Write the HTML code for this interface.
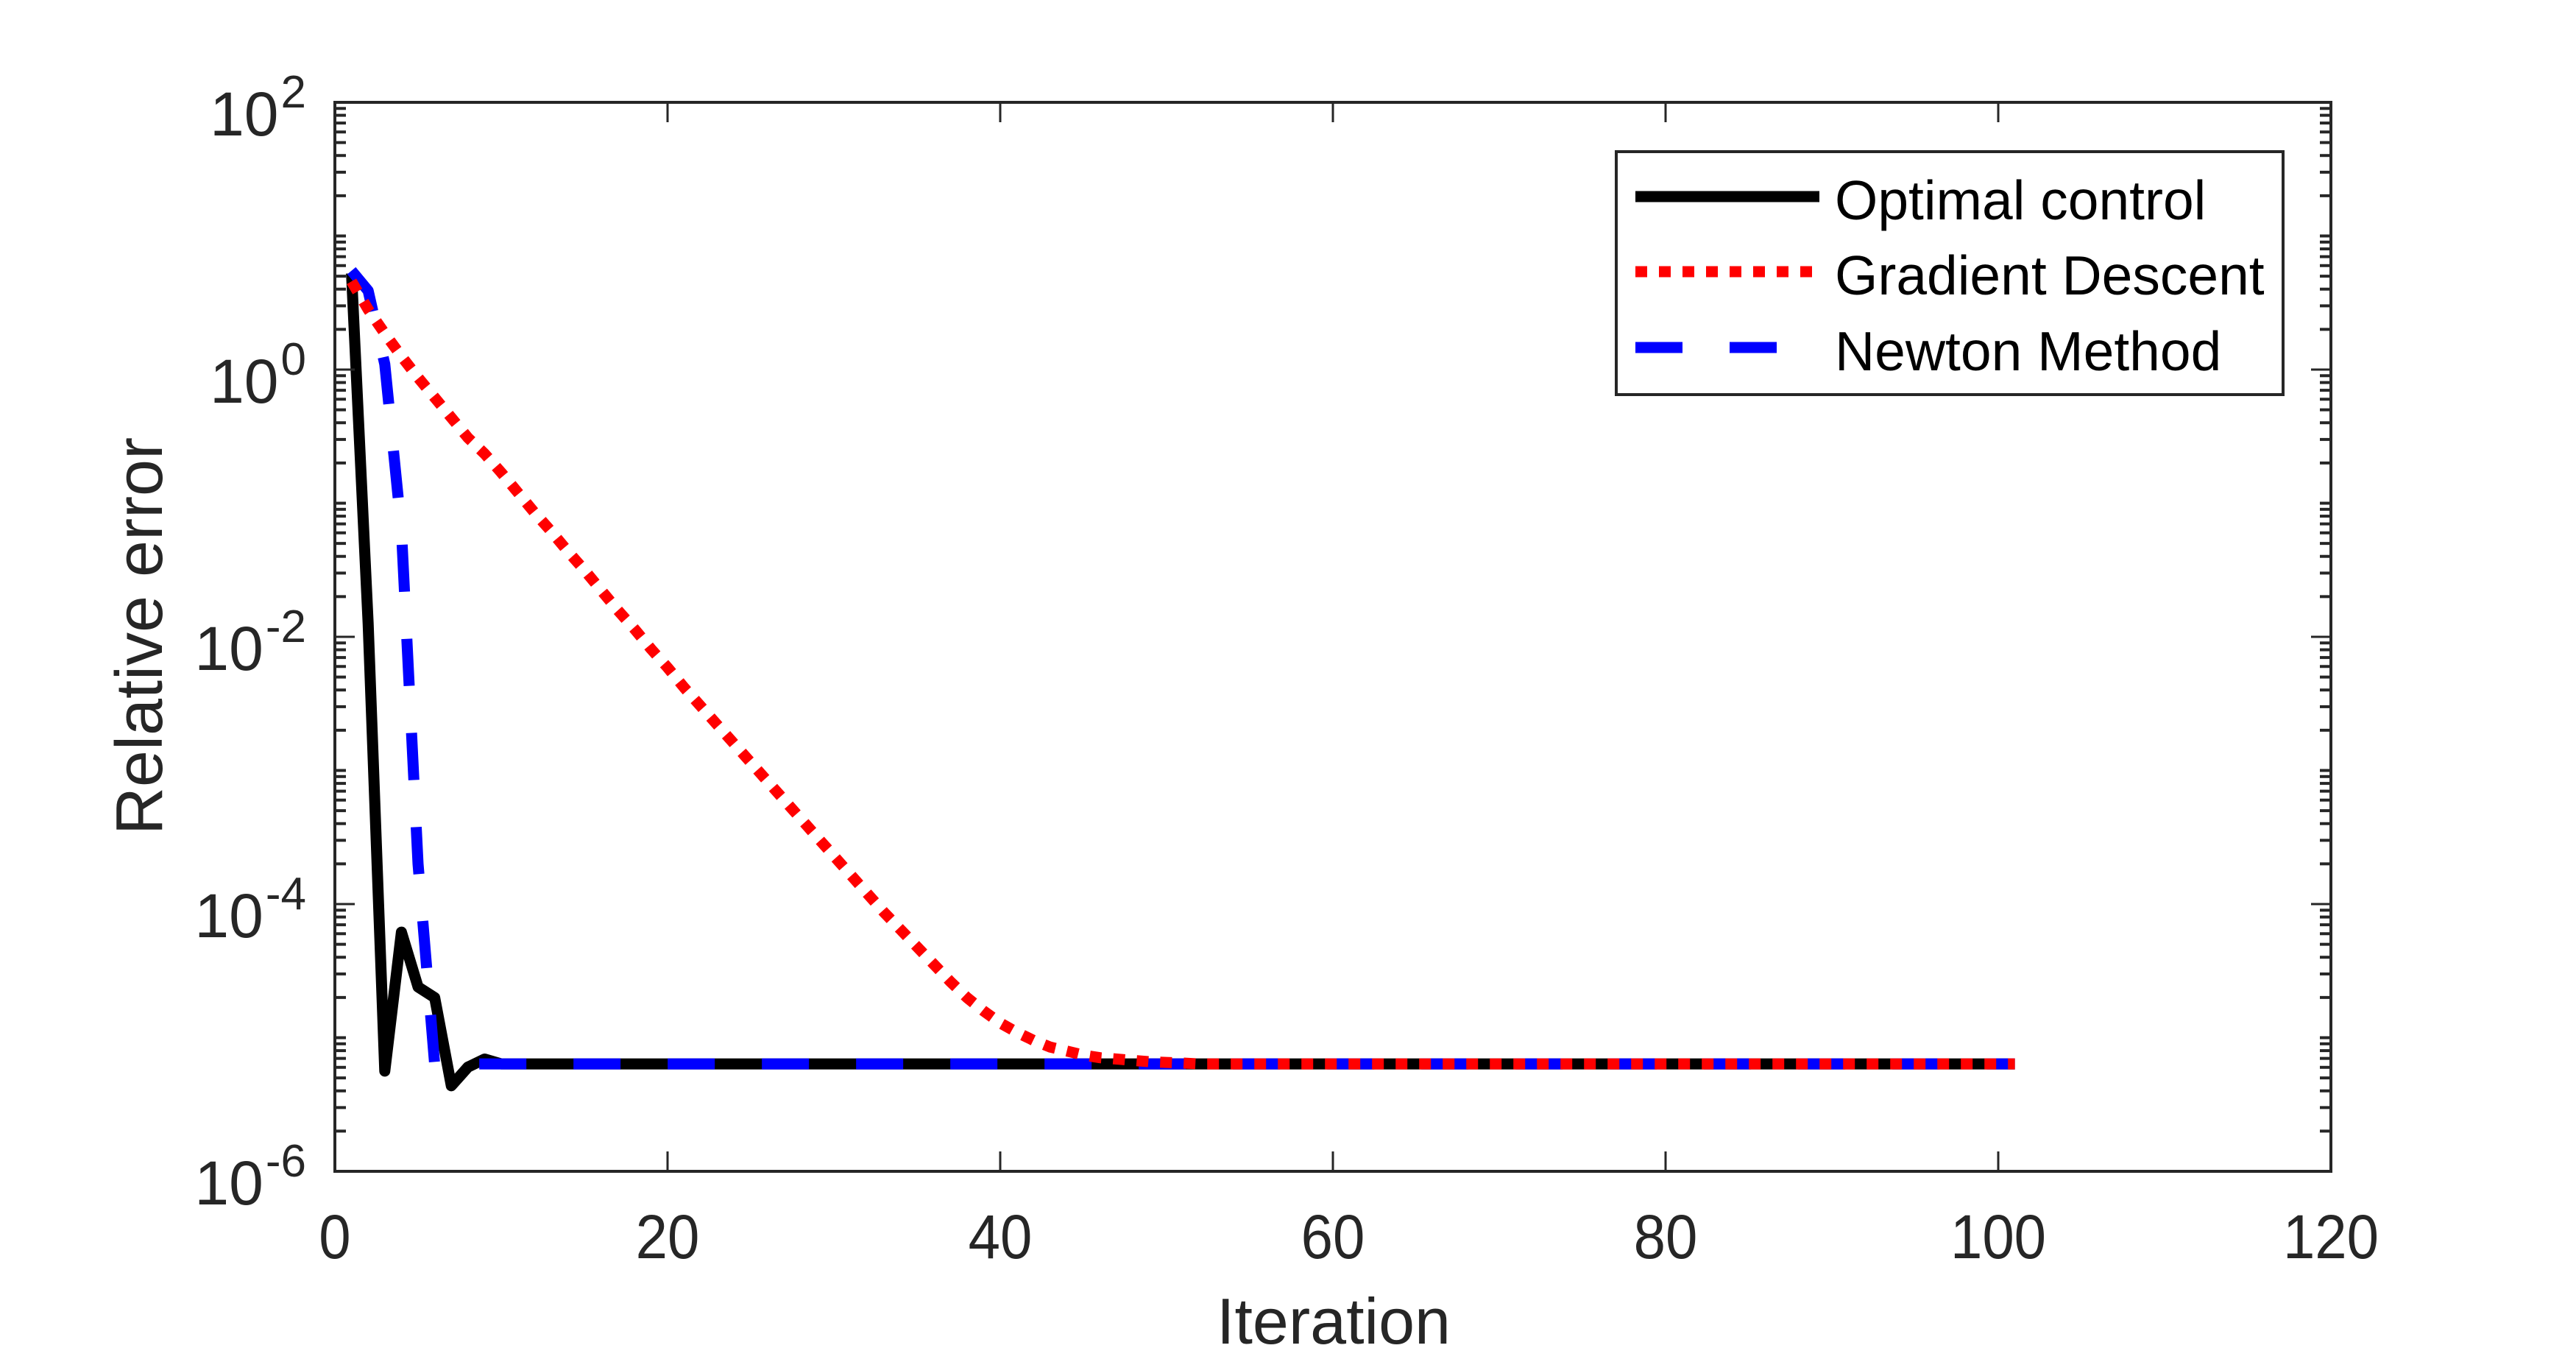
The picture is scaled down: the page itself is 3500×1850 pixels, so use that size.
<!DOCTYPE html>
<html><head><meta charset="utf-8"><style>
html,body{margin:0;padding:0;background:#fff;}
svg{display:block;font-family:"Liberation Sans",Arial,sans-serif;}
</style></head><body>
<svg id="chart" width="3500" height="1850" viewBox="0 0 3500 1850" xmlns="http://www.w3.org/2000/svg">
<rect x="0" y="0" width="3500" height="1850" fill="#fff"/>
<g id="series"></g>
<g id="axes"></g>
<g id="legend"></g>
</svg>
<script>
// ---- data ----
const xTicks = [0, 20, 40, 60, 80, 100, 120];
const yTickExps = [2, 0, -2, -4, -6];
const seriesNames = ["Optimal control", "Gradient Descent", "Newton Method"];
// log10 of relative error per iteration (iteration 1..)
const optimalLog = [0.72, -1.9, -5.25, -4.21, -4.62, -4.70, -5.36, -5.22, -5.16];
const gradientLog = [0.66, 0.45, 0.27, 0.10, -0.06, -0.21, -0.36, -0.51, -0.63, -0.77,
  -0.92, -1.07, -1.21, -1.36, -1.50, -1.65, -1.80, -1.94, -2.09, -2.23,
  -2.38, -2.52, -2.66, -2.80, -2.94, -3.08, -3.22, -3.36, -3.50, -3.64,
  -3.78, -3.92, -4.06, -4.19, -4.32, -4.45, -4.58, -4.70, -4.80, -4.89,
  -4.96, -5.02, -5.07, -5.10, -5.13, -5.15, -5.16, -5.17, -5.18, -5.185, -5.19];
const newtonLog = [0.74, 0.59, 0.04, -1.2, -3.7, -5.2];
const plateauLog = -5.196;
const nIter = 101;

// ---- layout ----
const L = 455, R = 3167, T = 139, B = 1591;
const xMin = 0, xMax = 120, yMinExp = -6, yMaxExp = 2;
const sx = v => L + (v - xMin) / (xMax - xMin) * (R - L);
const sy = lg => B - (lg - yMinExp) / (yMaxExp - yMinExp) * (B - T);
const NS = "http://www.w3.org/2000/svg";
function mk(tag, attrs, parent) {
  const e = document.createElementNS(NS, tag);
  for (const k in attrs) e.setAttribute(k, attrs[k]);
  parent.appendChild(e);
  return e;
}
function fill(arr) {
  const out = arr.slice();
  while (out.length < nIter) out.push(plateauLog);
  return out;
}
const seriesG = document.getElementById('series');
const axesG = document.getElementById('axes');
const legG = document.getElementById('legend');

const styles = [
  {data: fill(optimalLog), color: "#000000", dash: "none", name: "optimal-control-line"},
  {data: fill(newtonLog), color: "#0000ff", dash: "64 64", name: "newton-method-line"},
  {data: fill(gradientLog), color: "#ff0000", dash: "16 16", name: "gradient-descent-line"}
];
styles.forEach(s => {
  const pts = s.data.map((v, i) => sx(i + 1).toFixed(1) + "," + sy(v).toFixed(1)).join(" ");
  const p = mk('polyline', {points: pts, fill: "none", stroke: s.color, "stroke-width": 15,
    "stroke-dasharray": s.dash, "stroke-linejoin": "round"}, seriesG);
  
  
});

// axes box
const box = mk('rect', {x: L, y: T, width: R - L, height: B - T, fill: "none", stroke: "#262626", "stroke-width": 4}, axesG);



// x ticks
xTicks.forEach(v => {
  const x = sx(v);
  mk('line', {x1: x, y1: B, x2: x, y2: B - 27, stroke: "#262626", "stroke-width": 3}, axesG);
  mk('line', {x1: x, y1: T, x2: x, y2: T + 27, stroke: "#262626", "stroke-width": 3}, axesG);
  const t = mk('text', {x: x, y: 1709, "text-anchor": "middle", "font-size": 78, fill: "#262626",
    transform: `translate(0,1709) scale(1,1.08) translate(0,-1709)`}, axesG);
  t.textContent = v;
  
  
});

// y ticks: minor and major
for (let e = yMinExp; e < yMaxExp; e++) {
  for (let m = 2; m <= 9; m++) {
    const y = sy(e + Math.log10(m));
    mk('line', {x1: L, y1: y, x2: L + 15, y2: y, stroke: "#262626", "stroke-width": 4}, axesG);
    mk('line', {x1: R, y1: y, x2: R - 15, y2: y, stroke: "#262626", "stroke-width": 4}, axesG);
  }
  if (e % 2 !== 0) {
    const y = sy(e);
    mk('line', {x1: L, y1: y, x2: L + 15, y2: y, stroke: "#262626", "stroke-width": 4}, axesG);
    mk('line', {x1: R, y1: y, x2: R - 15, y2: y, stroke: "#262626", "stroke-width": 4}, axesG);
  }
}
yTickExps.forEach(e => {
  const y = sy(e);
  mk('line', {x1: L, y1: y, x2: L + 27, y2: y, stroke: "#262626", "stroke-width": 3}, axesG);
  mk('line', {x1: R, y1: y, x2: R - 27, y2: y, stroke: "#262626", "stroke-width": 3}, axesG);
  const t = mk('text', {x: 416, y: y + 45, "text-anchor": "end", fill: "#262626"}, axesG);
  
  
  const b = mk('tspan', {"font-size": 84}, t);
  b.textContent = "10";
  const ex = mk('tspan', {"font-size": 62, dx: 3, dy: -38}, t);
  ex.textContent = String(e);
});

// axis titles
const xt = mk('text', {x: 1812, y: 1825, "text-anchor": "middle", "font-size": 88, fill: "#262626"}, axesG);
xt.textContent = "Iteration";


const yt = mk('text', {x: 0, y: 0, "text-anchor": "middle", "font-size": 90, fill: "#262626",
  transform: "translate(220,864) rotate(-90)"}, axesG);
yt.textContent = "Relative error";



// legend
const lb = mk('rect', {x: 2196, y: 206, width: 906, height: 330, fill: "#fff", stroke: "#262626", "stroke-width": 4}, legG);


const legRows = [
  {y: 267, base: 298, color: "#000000", dash: "none"},
  {y: 369, base: 400, color: "#ff0000", dash: "16 16"},
  {y: 472, base: 503, color: "#0000ff", dash: "64 64"}
];
seriesNames.forEach((nm, i) => {
  const r = legRows[i];
  const g = mk('g', {}, legG);
  
  
  mk('line', {x1: 2222, y1: r.y, x2: 2472, y2: r.y, stroke: r.color, "stroke-width": 15, "stroke-dasharray": r.dash}, g);
  const t = mk('text', {x: 2493, y: r.base, "font-size": 75, fill: "#000"}, g);
  t.textContent = nm;
});
</script>
</body></html>
